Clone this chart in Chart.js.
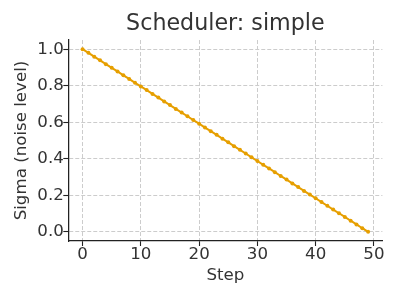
<!DOCTYPE html>
<html>
<head>
<meta charset="utf-8">
<script src="https://cdn.jsdelivr.net/npm/chart.js@4"></script>
<style>
html,body{margin:0;padding:0;background:#fff;}
#wrap{width:400px;height:300px;}
</style>
</head>
<body>
<div id="wrap"><canvas id="c" width="400" height="300"></canvas></div>
<script>
const steps = [0,1,2,3,4,5,6,7,8,9,10,11,12,13,14,15,16,17,18,19,20,21,22,23,24,25,26,27,28,29,30,31,32,33,34,35,36,37,38,39,40,41,42,43,44,45,46,47,48,49];
const sigmas = [1.000,0.980,0.959,0.939,0.918,0.898,0.878,0.857,0.837,0.816,0.796,0.776,0.755,0.735,0.714,0.694,0.673,0.653,0.633,0.612,0.592,0.571,0.551,0.531,0.510,0.490,0.469,0.449,0.429,0.408,0.388,0.367,0.347,0.327,0.306,0.286,0.265,0.245,0.224,0.204,0.184,0.163,0.143,0.122,0.102,0.082,0.061,0.041,0.020,0.000];
const xTicks = [0,10,20,30,40,50];
const xTickLabels = ['0','10','20','30','40','50'];
const yTicks = [0,0.2,0.4,0.6,0.8,1.0];
const yTickLabels = ['0.0','0.2','0.4','0.6','0.8','1.0'];

const FONT = 'DejaVu Sans';
const TEXT = '#333333';
const gridColor = '#cccccc';

new Chart(document.getElementById('c'), {
  type: 'line',
  data: {
    datasets: [{
      label: 'simple',
      data: steps.map((s, i) => ({x: s, y: sigmas[i]})),
      borderColor: '#E69F00',
      backgroundColor: '#E69F00',
      borderWidth: 2,
      pointRadius: 2,
      pointBorderWidth: 0,
      pointBackgroundColor: '#E69F00',
      tension: 0,
      fill: false
    }]
  },
  options: {
    responsive: false,
    animation: false,
    devicePixelRatio: 1,
    layout: {padding: {left: 4, right: 17.6, top: 11, bottom: 4}},
    plugins: {
      legend: {display: false},
      tooltip: {enabled: false},
      title: {
        display: true,
        fullSize: false,
        text: 'Scheduler: simple',
        color: TEXT,
        font: {family: FONT, size: 22.2, weight: 'normal'},
        padding: {top: 0, bottom: 2.4}
      }
    },
    scales: {
      x: {
        type: 'linear',
        min: -2.45,
        max: 51.45,
        afterBuildTicks: s => { s.ticks = xTicks.map(v => ({value: v})); },
        afterFit: s => { s.height = 55; },
        ticks: {
          color: TEXT,
          font: {family: FONT, size: 16.67},
          padding: -1.8,
          maxRotation: 0,
          autoSkip: false,
          callback: (v, i) => xTickLabels[i]
        },
        grid: {
          color: gridColor,
          lineWidth: 1,
          drawTicks: true,
          tickLength: 5,
          tickColor: '#222222',
          tickWidth: 1.1
        },
        border: {display: true, color: '#222222', width: 1.25, dash: [4, 2]},
        title: {
          display: true,
          text: 'Step',
          color: TEXT,
          font: {family: FONT, size: 16.67},
          padding: {top: 0, bottom: 10.5}
        }
      },
      y: {
        type: 'linear',
        min: -0.05,
        max: 1.05,
        afterBuildTicks: s => { s.ticks = yTicks.map(v => ({value: v})); },
        afterFit: s => { s.width = 64.3; },
        ticks: {
          color: TEXT,
          font: {family: FONT, size: 16.67},
          padding: -0.5,
          autoSkip: false,
          callback: (v, i) => yTickLabels[i]
        },
        grid: {
          color: gridColor,
          lineWidth: 1,
          drawTicks: true,
          tickLength: 5,
          tickColor: '#222222',
          tickWidth: 1.1
        },
        border: {display: true, color: '#222222', width: 1.25, dash: [4, 2]},
        title: {
          display: true,
          text: 'Sigma (noise level)',
          color: TEXT,
          font: {family: FONT, size: 16.67},
          padding: {top: 7.7, bottom: 0}
        }
      }
    }
  }
});
</script>
</body>
</html>
